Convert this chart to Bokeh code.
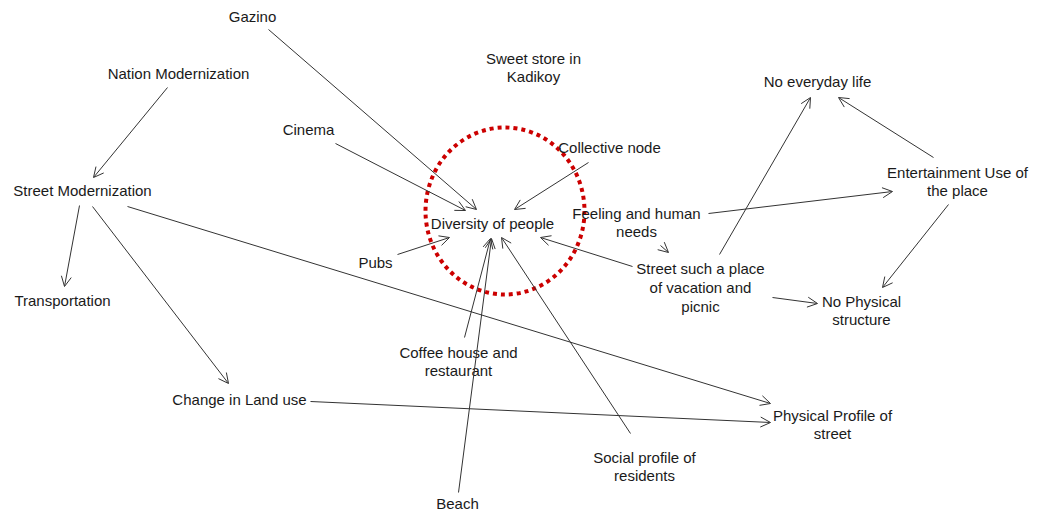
from bokeh.plotting import figure
from bokeh.models import Range1d, ColumnDataSource, Arrow, OpenHead
from bokeh.core.properties import value
from bokeh.embed import file_html
from bokeh.resources import INLINE

# ---- data: node labels and positions (image pixel coords) ----
labels = ["Gazino", "Nation Modernization", "Sweet store in\nKadikoy", "No everyday life",
          "Cinema", "Collective node", "Street Modernization", "Entertainment Use of\nthe place",
          "Diversity of people", "Feeling and human\nneeds", "Pubs",
          "Street such a place\nof vacation and\npicnic", "No Physical\nstructure",
          "Transportation", "Coffee house and\nrestaurant", "Change in Land use",
          "Physical Profile of\nstreet", "Social profile of\nresidents", "Beach"]
label_x = [252, 178, 533, 817, 308, 609, 82, 957, 492, 636, 375, 700, 861, 62, 458, 239, 832, 644, 457]
label_y = [16, 73, 67, 81, 129, 147, 190, 181, 223, 222, 262, 287, 310, 300, 361, 399, 424, 466, 503]

# ---- edges: start and end points ----
edge_x0 = [268, 335, 588, 397, 464, 458, 630, 632, 167, 79, 92, 127, 310, 708, 660, 719, 933, 948, 772]
edge_y0 = [29, 143, 162, 254, 337, 492, 433, 266, 87, 205, 206, 206, 401, 213, 245, 254, 157, 204, 297]
edge_x1 = [476, 465, 514, 449, 490, 491, 501, 540, 93, 64, 228, 770, 770, 892, 668, 810, 838, 882, 817]
edge_y1 = [209, 210, 209, 237, 238, 238, 237, 237, 177, 286, 383, 403, 422, 191, 252, 97, 97, 287, 303]

# ---- highlight ellipse ----
focus_x = [504.5]
focus_y = [210.5]
focus_w = [159]
focus_h = [167]

W, H = 1030, 512
p = figure(width=W, height=H, output_backend="svg", toolbar_location=None,
           x_range=Range1d(0, W), y_range=Range1d(H, 0),
           min_border=0, min_border_left=0, min_border_right=0,
           min_border_top=0, min_border_bottom=0)
p.axis.visible = False
p.grid.visible = False
p.outline_line_color = None
p.background_fill_color = "white"
p.border_fill_color = "white"

src = ColumnDataSource(dict(x0=edge_x0, y0=edge_y0, x1=edge_x1, y1=edge_y1))
p.add_layout(Arrow(source=src, x_start="x0", y_start="y0", x_end="x1", y_end="y1",
                   line_color="#333333", line_width=1,
                   end=OpenHead(size=10, line_color="#333333", line_width=1)))

p.ellipse(x=focus_x, y=focus_y, width=focus_w, height=focus_h,
          fill_alpha=0, line_color="#cc0000", line_width=4, line_dash="4 4")

p.text(x=label_x, y=label_y, text=labels, text_align="center", text_baseline="middle",
       text_font=value("Liberation Sans"), text_font_size="15px", text_color="#1a1a1a",
       text_line_height=1.1)

open("out.html", "w").write(file_html(p, INLINE))
